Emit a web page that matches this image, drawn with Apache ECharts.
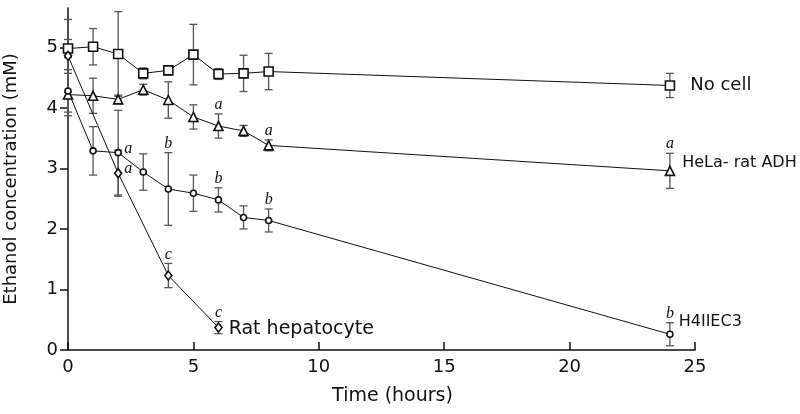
<!DOCTYPE html>
<html>
<head>
<meta charset="utf-8">
<script src="https://cdn.jsdelivr.net/npm/echarts@6/dist/echarts.min.js"></script>
<style>html,body{margin:0;padding:0;background:#fff}#c{width:800px;height:414px}</style>
</head>
<body>
<div id="c"></div>
<script>
// ---- data ----
const timeMain = [0, 1, 2, 3, 4, 5, 6, 7, 8, 24];
const noCell = [4.98, 5.01, 4.89, 4.57, 4.62, 4.88, 4.56, 4.57, 4.60, 4.37];
const noCellErr = [0.15, 0.30, 0.70, 0.09, 0.07, 0.50, 0.09, 0.30, 0.30, 0.20];
const hela = [4.22, 4.20, 4.14, 4.30, 4.13, 3.85, 3.70, 3.62, 3.38, 2.96];
const helaErr = [0.35, 0.29, 0.07, 0.09, 0.30, 0.20, 0.20, 0.09, 0.09, 0.29];
const h4 = [4.28, 3.29, 3.26, 2.94, 2.66, 2.59, 2.48, 2.19, 2.14, 0.26];
const h4Err = [0.35, 0.40, 0.70, 0.30, 0.60, 0.30, 0.20, 0.19, 0.19, 0.19];
const timeHep = [0, 2, 4, 6];
const hep = [4.86, 2.92, 1.23, 0.37];
const hepErr = [0.60, 0.38, 0.20, 0.10];

const seriesNames = ['No cell', 'HeLa- rat ADH', 'H4IIEC3', 'Rat hepatocyte'];
const xTicks = [0, 5, 10, 15, 20, 25];
const yTicks = [0, 1, 2, 3, 4, 5];

// significance letters: [time, letter, placement]
const helaLetters = [[6, 'a', 'top'], [8, 'a', 'top'], [24, 'a', 'top']];
const h4Letters = [[2, 'a', 'right'], [4, 'b', 'top'], [6, 'b', 'top'], [8, 'b', 'top'], [24, 'b', 'top']];
const hepLetters = [[2, 'a', 'right'], [4, 'c', 'top'], [6, 'c', 'top']];

// ---- build ----
const FONT = 'DejaVu Sans';
function pairs(xs, ys) { return xs.map((x, i) => [x, ys[i]]); }
function errData(xs, ys, es) { return xs.map((x, i) => [x, ys[i] - es[i], ys[i] + es[i]]); }
function letterData(letters, xs, ys, es) {
  return letters.map(l => {
    const i = xs.indexOf(l[0]);
    return [l[0], ys[i], ys[i] + es[i], l[1], l[2]];
  });
}

function errSeries(data) {
  return {
    type: 'custom', z: 1, silent: true,
    renderItem: function (params, api) {
      const x = api.value(0);
      const lo = api.coord([x, api.value(1)]);
      const hi = api.coord([x, api.value(2)]);
      const w = 4;
      const st = { stroke: '#555', lineWidth: 1.3 };
      return {
        type: 'group', children: [
          { type: 'line', shape: { x1: lo[0], y1: lo[1], x2: hi[0], y2: hi[1] }, style: st },
          { type: 'line', shape: { x1: lo[0] - w, y1: lo[1], x2: lo[0] + w, y2: lo[1] }, style: st },
          { type: 'line', shape: { x1: hi[0] - w, y1: hi[1], x2: hi[0] + w, y2: hi[1] }, style: st }
        ]
      };
    },
    encode: { x: 0, y: [1, 2] },
    data: data
  };
}

function letterSeries(data) {
  return {
    type: 'custom', z: 5, silent: true,
    renderItem: function (params, api) {
      const x = api.value(0);
      const place = data[params.dataIndex][4];
      let p, dx, dy;
      if (place === 'right') { p = api.coord([x, api.value(1)]); dx = 10; dy = -4; }
      else { p = api.coord([x, api.value(2)]); dx = 0; dy = -9; }
      return {
        type: 'text',
        style: {
          text: data[params.dataIndex][3], x: p[0] + dx, y: p[1] + dy,
          font: 'italic 16px "Liberation Serif"', fill: '#111',
          align: 'center', verticalAlign: 'middle'
        }
      };
    },
    encode: { x: 0, y: [1, 2] },
    data: data
  };
}

function lineSeries(name, xs, ys, symbol, size, labelOffset, labelSize) {
  const d = pairs(xs, ys).map((p, i) => {
    if (i === xs.length - 1) {
      return {
        value: p,
        label: {
          show: true, position: 'right', formatter: name, offset: labelOffset,
          fontFamily: FONT, fontSize: labelSize, color: '#111'
        }
      };
    }
    return p;
  });
  return {
    type: 'line', name: name, z: 3, data: d,
    symbol: symbol, symbolSize: size, showAllSymbol: true,
    lineStyle: { color: '#111', width: 1 },
    itemStyle: { color: '#fff', borderColor: '#111', borderWidth: 1.6 },
    emphasis: { disabled: true },
    animation: false
  };
}

const chart = echarts.init(document.getElementById('c'), null, { renderer: 'canvas' });
chart.setOption({
  animation: false,
  backgroundColor: '#fff',
  grid: { left: 68, right: 105, top: 8, bottom: 64, containLabel: false, outerBoundsMode: 'none' },
  xAxis: {
    type: 'value', min: 0, max: 25, interval: 5,
    name: 'Time (hours)', nameLocation: 'middle', nameGap: 37,
    nameTextStyle: { fontFamily: FONT, fontSize: 19, color: '#111', padding: [0, 0, 0, 22] },
    axisLine: { lineStyle: { color: '#111', width: 1.5 } },
    axisTick: { inside: true, length: 8, lineStyle: { color: '#111', width: 1.5 } },
    axisLabel: { fontFamily: FONT, fontSize: 18, color: '#111', margin: 8, customValues: xTicks },
    splitLine: { show: false }
  },
  yAxis: {
    type: 'value', min: 0, max: 5.65, interval: 1,
    name: 'Ethanol concentration (mM)', nameLocation: 'middle', nameGap: 48,
    nameTextStyle: { fontFamily: FONT, fontSize: 18, color: '#111' },
    axisLine: { show: true, lineStyle: { color: '#111', width: 1.5 } },
    axisTick: { show: true, inside: false, length: 8, lineStyle: { color: '#111', width: 1.5 }, customValues: yTicks },
    axisLabel: { fontFamily: FONT, fontSize: 18, color: '#111', margin: 10, customValues: yTicks },
    splitLine: { show: false }
  },
  series: [
    errSeries(errData(timeMain, noCell, noCellErr)),
    errSeries(errData(timeMain, hela, helaErr)),
    errSeries(errData(timeMain, h4, h4Err)),
    errSeries(errData(timeHep, hep, hepErr)),
    lineSeries(seriesNames[0], timeMain, noCell, 'rect', 9, [10, 0], 18),
    lineSeries(seriesNames[1], timeMain, hela, 'triangle', 9, [2, -8], 16),
    lineSeries(seriesNames[2], timeMain, h4, 'circle', 6, [0, -12], 16),
    lineSeries(seriesNames[3], timeHep, hep, 'diamond', [7, 9], [1, 1], 19),
    letterSeries(letterData(helaLetters, timeMain, hela, helaErr)),
    letterSeries(letterData(h4Letters, timeMain, h4, h4Err)),
    letterSeries(letterData(hepLetters, timeHep, hep, hepErr))
  ]
});
</script>
</body>
</html>
